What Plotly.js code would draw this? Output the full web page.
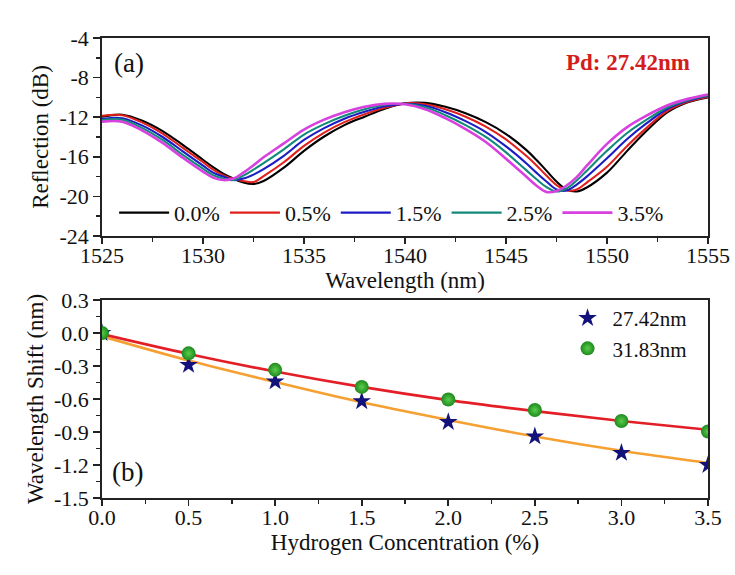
<!DOCTYPE html>
<html>
<head>
<meta charset="utf-8">
<script src="https://cdn.plot.ly/plotly-3.0.1.min.js"></script>
<style>html,body{margin:0;padding:0;background:#fff;}#chart{width:735px;height:575px;}</style>
</head>
<body>
<div id="chart"></div>
<script>
// ---- Panel (a): reflection spectra ----
const wavelength = [1525,1526,1527,1528,1529,1530,1530.5,1531,1531.5,1532,1532.5,1533,1534,1535,1536,1537,1538,1539,1540,1541,1542,1543,1544,1545,1546,1546.5,1547,1547.5,1548,1548.5,1549,1550,1551,1552,1553,1554,1555];
const refl_0_0 = [-11.95,-11.75,-12.35,-13.4,-14.8,-16.3,-17.05,-17.7,-18.2,-18.6,-18.75,-18.45,-17.1,-15.4,-13.95,-12.8,-11.95,-11.15,-10.6,-10.55,-10.95,-11.6,-12.5,-13.7,-15.3,-16.3,-17.4,-18.5,-19.3,-19.5,-19.1,-17.6,-15.4,-13.3,-11.5,-10.5,-10.0];
const refl_0_5 = [-11.85,-11.8,-12.55,-13.65,-15.1,-16.55,-17.3,-17.85,-18.25,-18.45,-18.55,-17.95,-16.55,-14.9,-13.55,-12.5,-11.7,-11.05,-10.6,-10.7,-11.2,-11.95,-12.95,-14.25,-15.9,-16.85,-17.9,-18.85,-19.4,-19.3,-18.6,-17.0,-14.9,-13.0,-11.35,-10.45,-9.95];
const refl_1_5 = [-12.2,-12.1,-12.85,-14.0,-15.45,-16.9,-17.6,-18.0,-18.35,-18.2,-17.8,-17.25,-15.9,-14.3,-13.1,-12.15,-11.45,-10.9,-10.65,-10.85,-11.5,-12.4,-13.5,-14.95,-16.65,-17.6,-18.5,-19.3,-19.4,-18.8,-18.0,-16.15,-14.2,-12.55,-11.15,-10.35,-9.85];
const refl_2_5 = [-12.3,-12.25,-13.1,-14.3,-15.8,-17.2,-17.85,-18.2,-18.35,-17.9,-17.3,-16.65,-15.25,-13.75,-12.7,-11.85,-11.2,-10.75,-10.65,-11.0,-11.8,-12.8,-14.0,-15.55,-17.35,-18.25,-19.05,-19.5,-19.2,-18.4,-17.4,-15.4,-13.6,-12.2,-11.0,-10.25,-9.8];
const refl_3_5 = [-12.45,-12.45,-13.35,-14.6,-16.1,-17.5,-18.1,-18.35,-18.2,-17.6,-16.85,-16.05,-14.65,-13.25,-12.25,-11.5,-10.95,-10.65,-10.7,-11.2,-12.1,-13.2,-14.5,-16.2,-18.0,-18.9,-19.55,-19.45,-18.9,-18.05,-16.9,-14.7,-13.0,-11.8,-10.8,-10.15,-9.7];
const specNames = ['0.0%','0.5%','1.5%','2.5%','3.5%'];
const specColors = ['#000000','#e0201c','#1c1cc4','#128a78','#d840e0'];

const topXTicks = [1525,1530,1535,1540,1545,1550,1555];
const topXText = ['1525','1530','1535','1540','1545','1550','1555'];
const topYTicks = [-4,-8,-12,-16,-20,-24];
const topYText = ['-4','-8','-12','-16','-20','-24'];

// ---- Panel (b): wavelength shift ----
const concentration = [0,0.5,1.0,1.5,2.0,2.5,3.0,3.5];
const shift_27_42 = [0,-0.29,-0.44,-0.62,-0.81,-0.94,-1.09,-1.20];
const shift_31_83 = [0,-0.185,-0.335,-0.49,-0.605,-0.70,-0.80,-0.895];
const fit_27_42 = [-0.03,-0.25,-0.445,-0.63,-0.79,-0.94,-1.07,-1.18];
const fit_31_83 = [-0.01,-0.19,-0.35,-0.49,-0.61,-0.71,-0.80,-0.88];

const botXTicks = [0,0.5,1.0,1.5,2.0,2.5,3.0,3.5];
const botXText = ['0.0','0.5','1.0','1.5','2.0','2.5','3.0','3.5'];
const botYTicks = [0.3,0,-0.3,-0.6,-0.9,-1.2,-1.5];
const botYText = ['0.3','0.0','-0.3','-0.6','-0.9','-1.2','-1.5'];

const FONT = 'Liberation Serif';
const specData = [refl_0_0, refl_0_5, refl_1_5, refl_2_5, refl_3_5];

const traces = [];
specData.forEach((ys, i) => {
  traces.push({
    x: wavelength, y: ys, type: 'scatter', mode: 'lines',
    name: specNames[i], line: {color: specColors[i], width: i === 4 ? 2.6 : 2.1, shape: 'spline', smoothing: 1},
    xaxis: 'x', yaxis: 'y', legend: 'legend'
  });
});
traces.push({x: concentration, y: fit_27_42, type: 'scatter', mode: 'lines', showlegend: false,
  line: {color: '#f5a030', width: 2.6, shape: 'spline'}, xaxis: 'x2', yaxis: 'y2'});
traces.push({x: concentration, y: fit_31_83, type: 'scatter', mode: 'lines', showlegend: false,
  line: {color: '#e41e26', width: 2.6, shape: 'spline'}, xaxis: 'x2', yaxis: 'y2'});
traces.push({x: concentration, y: shift_27_42, type: 'scatter', mode: 'markers', name: '27.42nm',
  marker: {symbol: 'star', size: 14, color: '#12127a', line: {width: 0}}, xaxis: 'x2', yaxis: 'y2', legend: 'legend2'});
traces.push({x: concentration, y: shift_31_83, type: 'scatter', mode: 'markers', name: '31.83nm',
  marker: {symbol: 'circle', size: 14, color: '#1d8a1d', gradient: {type: 'radial', color: '#5ccc4c'}, line: {width: 0}},
  xaxis: 'x2', yaxis: 'y2', legend: 'legend2'});

function axis(extra) {
  return Object.assign({
    showline: true, linewidth: 1.8, linecolor: '#222', mirror: true,
    ticks: 'outside', ticklen: 6, tickwidth: 1.6, tickcolor: '#222',
    showgrid: false, zeroline: false,
    tickfont: {family: FONT, size: 22, color: '#111'},
    tickmode: 'array'
  }, extra);
}

const layout = {
  width: 735, height: 575,
  margin: {l: 102, r: 27, t: 38, b: 77},
  paper_bgcolor: '#fff', plot_bgcolor: '#fff',
  font: {family: FONT, size: 22, color: '#111'},
  xaxis: axis({anchor: 'y', range: [1525, 1555], tickvals: topXTicks, ticktext: topXText, ticklabelstandoff: -7,
    minor: {ticks: 'outside', dtick: 2.5, tick0: 1525, ticklen: 4, tickwidth: 1.4, tickcolor: '#222'},
    title: {text: 'Wavelength (nm)', font: {family: FONT, size: 23}, standoff: 0}}),
  yaxis: axis({anchor: 'x', domain: [0.5696, 1], range: [-24, -4], tickvals: topYTicks, ticktext: topYText, ticklen: 7,
    minor: {ticks: 'outside', dtick: 2, tick0: -4, ticklen: 4, tickwidth: 1.4, tickcolor: '#222'},
    title: {text: 'Reflection (dB)', font: {family: FONT, size: 23}, standoff: 4}}),
  xaxis2: axis({anchor: 'y2', range: [0, 3.5], tickvals: botXTicks, ticktext: botXText, ticklabelstandoff: -7,
    minor: {ticks: 'outside', dtick: 0.25, tick0: 0, ticklen: 4, tickwidth: 1.4, tickcolor: '#222'},
    title: {text: 'Hydrogen Concentration (%)', font: {family: FONT, size: 23}, standoff: 0}}),
  yaxis2: axis({anchor: 'x2', domain: [0, 0.4304], range: [-1.5, 0.3], tickvals: botYTicks, ticktext: botYText, ticklen: 7,
    minor: {ticks: 'outside', dtick: 0.15, tick0: 0.3, ticklen: 4, tickwidth: 1.4, tickcolor: '#222'},
    title: {text: 'Wavelength Shift (nm)', font: {family: FONT, size: 23}, standoff: 4}}),
  legend: {orientation: 'h', x: 0.02, y: 0.62, xanchor: 'left', yanchor: 'middle',
    bgcolor: 'rgba(0,0,0,0)', font: {family: FONT, size: 22, color: '#111'}, itemwidth: 50, tracegroupgap: 0},
  legend2: {x: 0.76, y: 0.435, xanchor: 'left', yanchor: 'top', bgcolor: 'rgba(0,0,0,0)', itemwidth: 40,
    font: {family: FONT, size: 21, color: '#111'}},
  annotations: [
    {text: '(a)', xref: 'paper', yref: 'paper', x: 0.0165, y: 0.9457, xanchor: 'left', yanchor: 'middle', showarrow: false,
      font: {family: FONT, size: 27, color: '#111'}},
    {text: '<b>Pd: 27.42nm</b>', xref: 'paper', yref: 'paper', x: 0.868, y: 0.9457, xanchor: 'center', yanchor: 'middle', showarrow: false,
      font: {family: FONT, size: 23, color: '#d41c1c'}},
    {text: '(b)', xref: 'paper', yref: 'paper', x: 0.0135, y: 0.0565, xanchor: 'left', yanchor: 'middle', showarrow: false,
      font: {family: FONT, size: 27, color: '#111'}}
  ]
};

Plotly.newPlot('chart', traces, layout, {displayModeBar: false, staticPlot: true});
</script>
</body>
</html>
